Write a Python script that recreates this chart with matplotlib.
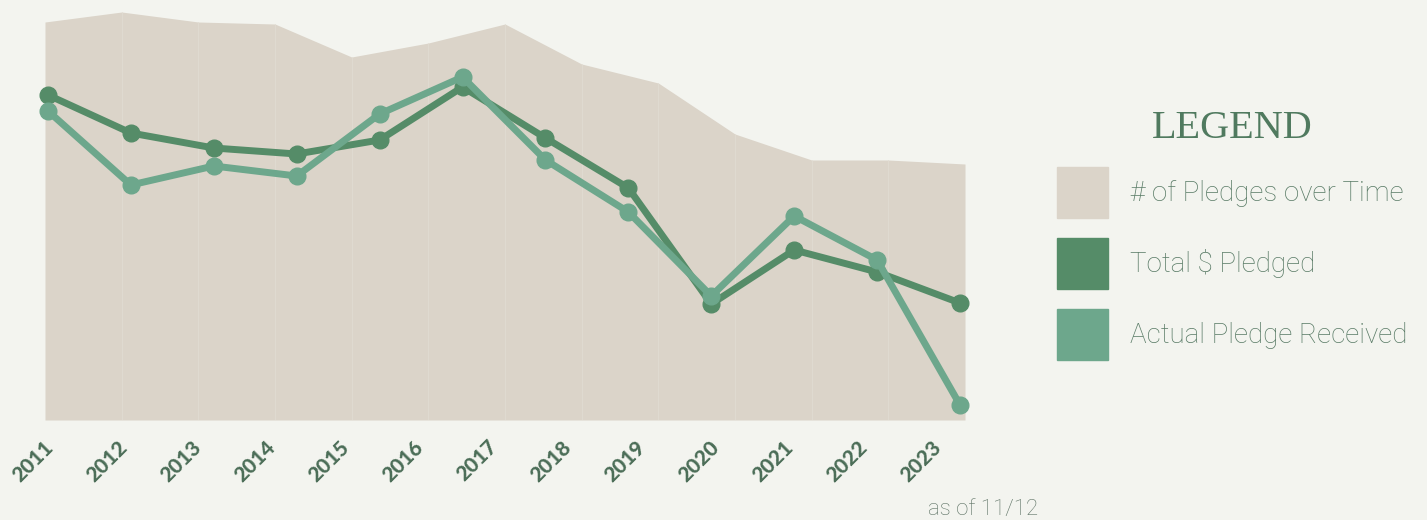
import matplotlib
matplotlib.use("Agg")
import matplotlib.pyplot as plt
from matplotlib.patches import Patch

# data (no y axis shown, arbitrary units)
years = ['2011', '2012', '2013', '2014', '2015', '2016', '2017',
         '2018', '2019', '2020', '2021', '2022', '2023']
pledge_count = [199, 204, 199, 198, 181.5, 188.5, 198, 178, 168.5, 143, 130, 130, 128]

# the two lines have 12 points
total_pledged = [162.5, 143.5, 136, 133, 140, 166.5, 141, 116, 58, 85, 74, 58.5]
actual_received = [154.5, 117.5, 127, 122, 153, 171.5, 130, 104, 62, 102, 80, 7.5]

bg = '#f3f4ef'
c_area = '#dbd4c9'
c_total = '#558c68'
c_actual = '#6da78c'
c_text = '#4b6d57'

fig = plt.figure(figsize=(14.27, 5.2), dpi=100)
fig.patch.set_facecolor(bg)

ax = fig.add_axes([45/1427, 100/520, 920/1427, 420/520])
ax.set_facecolor('none')
xs = list(range(len(years)))
ax.fill_between(xs, 0, pledge_count, color=c_area, lw=0, zorder=1)
ax.vlines(xs[1:-1], 0, pledge_count[1:-1], color='#e0dbd1', lw=0.7, zorder=1.5)
ax.set_xlim(0, 12)
ax.set_ylim(0, 210)
for s in ax.spines.values():
    s.set_visible(False)
ax.set_yticks([])
ax.set_xticks([])

# year labels run on a slightly tighter scale than the area
ax3 = ax.twiny()
ax3.set_xlim(-0.0676, 12.365)
for s in ax3.spines.values():
    s.set_visible(False)
ax3.xaxis.set_ticks_position('bottom')
ax3.set_xticks(xs)
ax3.set_xticklabels(years, rotation=45, ha='right', va='center', rotation_mode='anchor',
                    fontsize=15, fontweight='black', family='Lato', color=c_text)
ax3.tick_params(axis='x', length=0, pad=17)

# lines sit on their own x scale
ax2 = ax.twiny()
ax2.set_xlim(-0.036, 11.06)
ax2.axis('off')
idx = list(range(len(total_pledged)))
ax2.plot(idx, total_pledged, '-o', color=c_total, lw=5, ms=12, clip_on=False, zorder=3)
ax2.plot(idx, actual_received, '-o', color=c_actual, lw=5, ms=12, clip_on=False, zorder=4)

fig.text(1038/1427, 11/520, 'as of 11/12', ha='right', va='center', fontsize=16,
         family='Roboto', weight='light', color='#5f7466')

handles = [Patch(color=c_area, label='# of Pledges over Time'),
           Patch(color=c_total, label='Total $ Pledged'),
           Patch(color=c_actual, label='Actual Pledge Received')]
leg = fig.legend(handles=handles, loc='upper left', bbox_to_anchor=(1057/1427, 1 - 110/520),
                 frameon=False, borderaxespad=0, borderpad=0,
                 prop={'family': 'Roboto', 'weight': 'light', 'size': 20},
                 handlelength=1.83, handleheight=2.45, handletextpad=0.79, labelspacing=0.72,
                 title='LEGEND', title_fontproperties={'family': 'Liberation Serif', 'size': 29})
leg.get_title().set_color('#507a5f')
for t in leg.get_texts():
    t.set_color('#587a65')

fig.savefig('out.png', dpi=100, facecolor=bg)
